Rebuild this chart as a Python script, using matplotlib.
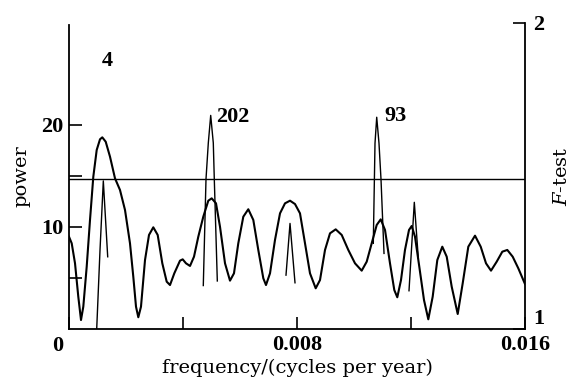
import matplotlib
matplotlib.use('Agg')
import matplotlib.pyplot as plt
import numpy as np

# ---- data ----
# frequency in units of 1e-3 cycles per year
freq_k = [0.000, 0.095, 0.211, 0.326, 0.421, 0.502, 0.621, 0.737, 0.853, 0.972,
          1.088, 1.168, 1.288, 1.439, 1.614, 1.789, 1.965, 2.140, 2.256, 2.351,
          2.432, 2.526, 2.667, 2.807, 2.958, 3.112, 3.274, 3.428, 3.544, 3.695,
          3.895, 3.989, 4.105, 4.246, 4.386, 4.537, 4.712, 4.888, 5.007, 5.158,
          5.298, 5.474, 5.649, 5.789, 5.940, 6.116, 6.291, 6.467, 6.642, 6.818,
          6.912, 7.053, 7.228, 7.404, 7.579, 7.755, 7.930, 8.105, 8.281, 8.456,
          8.656, 8.807, 8.983, 9.158, 9.358, 9.569, 9.800, 10.035, 10.270, 10.446,
          10.621, 10.797, 10.937, 11.088, 11.263, 11.414, 11.519, 11.649, 11.789, 11.930,
          12.025, 12.140, 12.291, 12.456, 12.607, 12.761, 12.923, 13.098, 13.253, 13.428,
          13.639, 13.814, 14.011, 14.246, 14.446, 14.632, 14.807, 15.007, 15.204, 15.379,
          15.568, 15.765, 16.000]
power = [9.05, 8.40, 6.44, 3.17, 0.88, 2.19, 6.11, 10.69, 14.93, 17.55,
         18.60, 18.79, 18.36, 16.89, 14.77, 13.63, 11.67, 8.40, 5.13, 2.19,
         1.15, 2.19, 6.76, 9.22, 9.97, 9.22, 6.44, 4.64, 4.31, 5.46,
         6.70, 6.83, 6.44, 6.18, 7.09, 9.05, 11.01, 12.58, 12.81, 12.32,
         10.03, 6.44, 4.74, 5.46, 8.40, 11.01, 11.74, 10.69, 7.75, 4.97,
         4.31, 5.46, 8.73, 11.34, 12.32, 12.58, 12.25, 11.34, 8.40, 5.46,
         3.99, 4.80, 7.75, 9.38, 9.77, 9.22, 7.75, 6.44, 5.72, 6.60,
         8.40, 10.20, 10.75, 9.71, 6.44, 3.82, 3.11, 4.80, 7.75, 9.71,
         10.10, 9.05, 6.11, 2.84, 0.95, 3.17, 6.76, 8.07, 7.09, 4.15,
         1.47, 4.48, 8.07, 9.15, 8.07, 6.44, 5.72, 6.60, 7.58, 7.75,
         7.09, 5.95, 4.41]

# F-test spikes (separate segments, NaN separates them)
nan = float('nan')
ftest_freq_k = [0.972, 1.088, 1.204, 1.358, nan,
                4.712, 4.807, 4.888, 4.972, 5.063, 5.098, 5.204, nan,
                7.614, 7.755, 7.930, nan,
                10.677, 10.737, 10.797, 10.877, 10.947, 11.053, nan,
                11.930, 12.116, 12.256]
ftest = [1.000, 1.258, 1.484, 1.236, nan,
         1.142, 1.490, 1.608, 1.698, 1.608, 1.490, 1.157, nan,
         1.176, 1.345, 1.151, nan,
         1.280, 1.607, 1.692, 1.607, 1.490, 1.247, nan,
         1.125, 1.414, 1.232]

sig_level = 1.49   # horizontal significance line (F-test scale)

peak_labels = ['4', '202', '93']
peak_label_freq_k = [1.358, 5.158, 11.053]
peak_label_power = [26.3, 20.8, 20.9]

xtick_vals = [0.0, 0.004, 0.008, 0.012, 0.016]
xtick_labels = ['', '', '0.008', '', '0.016']
ytick_vals = [5, 10, 15, 20]
ytick_labels = ['', '10', '', '20']
ftick_vals = [1, 2]
ftick_labels = ['1', '2']

# ---- drawing ----
num_font = dict(family='Liberation Serif', weight='bold', size=16)
lab_font = dict(family='DejaVu Serif', size=14)

plt.rcParams['mathtext.fontset'] = 'custom'
plt.rcParams['mathtext.it'] = 'DejaVu Serif:italic'
plt.rcParams['mathtext.rm'] = 'DejaVu Serif'

fig = plt.figure(figsize=(5.74, 3.84), dpi=100)
ax = fig.add_axes([69/574, 55/384, 456/574, 306/384])
ax2 = ax.twinx()

f = np.array(freq_k) * 1e-3
ax.plot(f, power, color='black', lw=1.5, solid_joinstyle='round')
ax2.plot(np.array(ftest_freq_k) * 1e-3, ftest, color='black', lw=1.0)
ax2.axhline(sig_level, color='black', lw=1.0)

ax.set_xlim(0, 0.016)
ax.set_ylim(0, 30)
ax2.set_ylim(1, 2)

for s in ['top', 'right']:
    ax.spines[s].set_visible(False)
for s in ['top', 'left', 'bottom']:
    ax2.spines[s].set_visible(False)
ax.spines['left'].set_bounds(0, 29.8)
for sp in [ax.spines['left'], ax.spines['bottom'], ax2.spines['right']]:
    sp.set_linewidth(1.3)

ax.set_xticks(xtick_vals)
ax.set_xticklabels(xtick_labels, fontdict=num_font)
ax.set_yticks(ytick_vals)
ax.set_yticklabels(ytick_labels, fontdict=num_font)
ax.tick_params(axis='x', direction='in', length=9, width=1.2, pad=4)
ax.tick_params(axis='y', direction='in', length=9, width=1.2, pad=4)

ax2.set_yticks(ftick_vals)
ax2.set_yticklabels(ftick_labels, fontdict=num_font)
ax2.tick_params(axis='y', direction='in', length=9, width=1.2, pad=6)
ax2.get_yticklabels()[0].set_va('bottom')

# corner "0"
ax.text(-0.0004, -0.7, '0', ha='center', va='top', fontdict=num_font)

for lab, fk, p in zip(peak_labels, peak_label_freq_k, peak_label_power):
    ha = 'center' if lab == '4' else 'left'
    ax.text(fk * 1e-3, p, lab, ha=ha, va='center', fontdict=num_font)

ax.set_xlabel('frequency/(cycles per year)', fontdict=lab_font, labelpad=3)
ax.set_ylabel('power', fontdict=lab_font, labelpad=8)
ax2.set_ylabel(r'$F$-test', fontdict=lab_font, labelpad=6)

fig.savefig('out.png', dpi=100)
